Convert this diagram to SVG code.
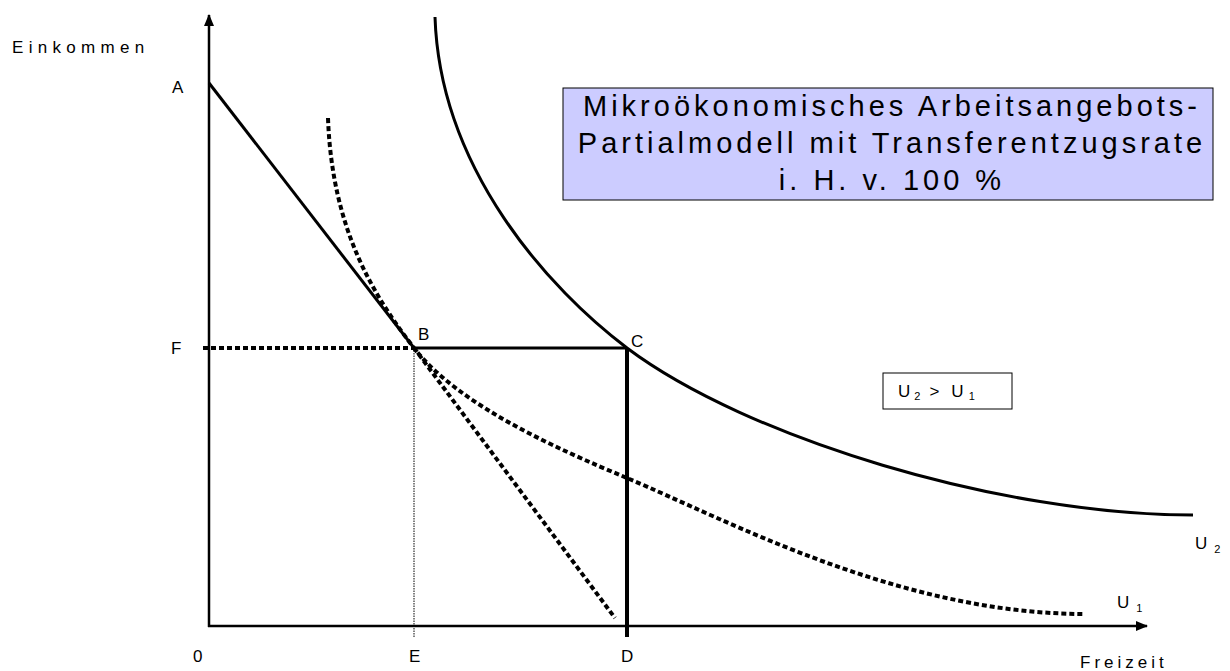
<svg xmlns="http://www.w3.org/2000/svg" width="1230" height="671" viewBox="0 0 1230 671">
<style>
  text { font-family: "Liberation Sans", Arial, sans-serif; fill: #000; }
  .lbl { font-size: 17px; letter-spacing: 4px; }
  .title { font-size: 29px; letter-spacing: 4px; text-anchor: middle; }
  .sub { font-size: 11px; }
  .axis { stroke: #000; stroke-width: 2.5; fill: none; }
  .solid { stroke: #000; stroke-width: 3; fill: none; }
  .dot { stroke: #000; stroke-width: 4; fill: none; stroke-dasharray: 5 3; }
  .thin { stroke: #000; stroke-width: 1; fill: none; stroke-dasharray: 1.5 1; }
</style>
<defs>
  <marker id="arr" viewBox="0 0 12 10" refX="11" refY="5" markerWidth="12" markerHeight="10" markerUnits="userSpaceOnUse" orient="auto">
    <path d="M0,0 L12,5 L0,10 Z" fill="#000"/>
  </marker>
</defs>
<rect width="1230" height="671" fill="#fff"/>

<g id="connectors">
  <line class="axis" x1="209" y1="627" x2="209" y2="15" marker-end="url(#arr)"/>
  <line class="axis" x1="208" y1="626" x2="1147" y2="626" marker-end="url(#arr)"/>
  <line class="solid" x1="209" y1="83" x2="414" y2="348"/>
  <line class="solid" x1="414" y1="348" x2="627" y2="348"/>
  <line class="dot" x1="203" y1="348" x2="414" y2="348"/>
  <line class="thin" x1="414" y1="348" x2="414" y2="637"/>
  <line x1="627" y1="348" x2="627" y2="637" stroke="#000" stroke-width="4"/>
  <line class="dot" x1="414" y1="348" x2="615" y2="618"/>
  <path id="U1" class="dot" d="M328,118 C332,230 374,296 414,348 C459,406 560,450 627,478 C727,520 900,614 1085,614"/>
  <path id="U2" class="solid" d="M435,17 C440,170 550,290 627,348 C747,438 1000,515 1193,515"/>
</g>

<g id="title">
  <rect x="563" y="88" width="650" height="112" fill="#CCCCFF" stroke="#000" stroke-width="1"/>
  <text class="title" x="892" y="116">Mikroökonomisches Arbeitsangebots-</text>
  <text class="title" x="892" y="153">Partialmodell mit Transferentzugsrate</text>
  <text class="title" x="892" y="190">i. H. v. 100 %</text>
</g>

<g id="legend">
  <rect x="883" y="373" width="129" height="36" fill="#fff" stroke="#000" stroke-width="1"/>
  <text x="898" y="397" class="lbl" style="letter-spacing:0">U<tspan class="sub" dx="4" dy="3">2</tspan><tspan dx="9" dy="-3">&gt;</tspan><tspan dx="12">U</tspan><tspan class="sub" dx="5" dy="3">1</tspan></text>
</g>

<g id="labels">
  <text class="lbl" x="12" y="53" style="letter-spacing:5.3px">Einkommen</text>
  <text class="lbl" x="172" y="93">A</text>
  <text class="lbl" x="171" y="354">F</text>
  <text class="lbl" x="418" y="340">B</text>
  <text class="lbl" x="631" y="347">C</text>
  <text class="lbl" x="193" y="662">0</text>
  <text class="lbl" x="409" y="662">E</text>
  <text class="lbl" x="621" y="662">D</text>
  <text class="lbl" x="1080" y="668">Freizeit</text>
  <text class="lbl" x="1117" y="608" style="letter-spacing:0">U<tspan class="sub" dx="7" dy="4">1</tspan></text>
  <text class="lbl" x="1195" y="549" style="letter-spacing:0">U<tspan class="sub" dx="7" dy="4">2</tspan></text>
</g>
</svg>
